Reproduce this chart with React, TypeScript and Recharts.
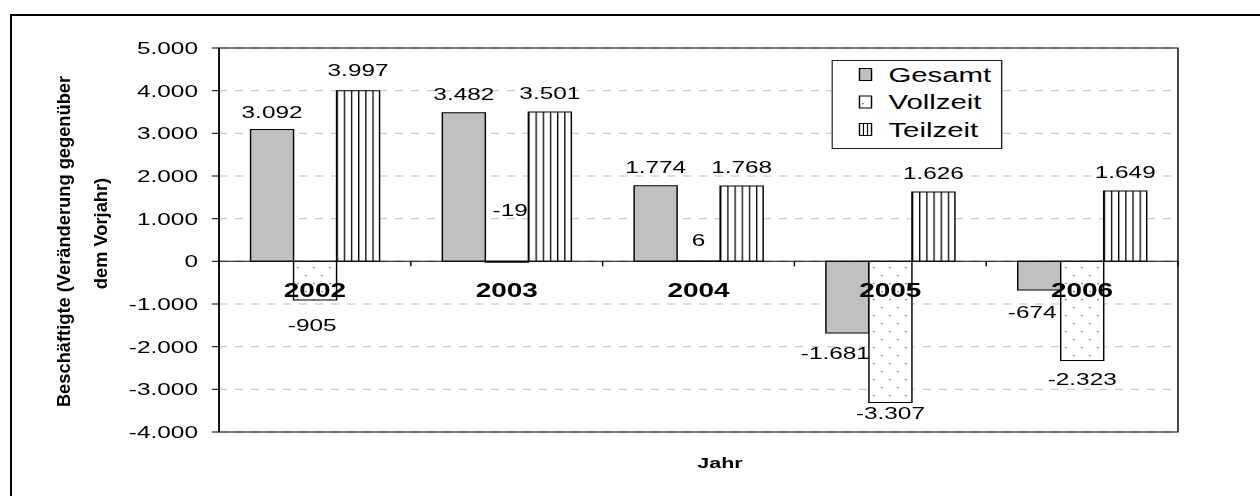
import { BarChart, Bar, XAxis, YAxis, CartesianGrid, ReferenceLine, ReferenceArea, Legend, LabelList } from "recharts";

const years = ["2002", "2003", "2004", "2005", "2006"];
const gesamt = [3092, 3482, 1774, -1681, -674];
const vollzeit = [-905, -19, 6, -3307, -2323];
const teilzeit = [3997, 3501, 1768, 1626, 1649];
const yTicks = [-4000, -3000, -2000, -1000, 0, 1000, 2000, 3000, 4000, 5000];

const data = years.map((year, i) => ({
  year,
  Gesamt: gesamt[i],
  Vollzeit: vollzeit[i],
  Teilzeit: teilzeit[i],
}));

// the reference is stretched horizontally, so the chart is drawn narrow and scaled in x
const SX = 1.4334;
const W = 879;
const H = 496;
const M = { top: 48, right: 57.2, bottom: 0, left: 0 };
const Y_AXIS_W = 152.8;
const X_AXIS_H = 64;
const PLOT_W = W - M.left - M.right - Y_AXIS_W;
const PLOT_H = H - M.top - M.bottom - X_AXIS_H;
const BAND = PLOT_W / years.length;
const Y_MIN = yTicks[0];
const Y_MAX = yTicks[yTicks.length - 1];
const ZERO_Y = M.top + (PLOT_H * Y_MAX) / (Y_MAX - Y_MIN);
const FONT = "'Liberation Sans', Arial, sans-serif";

// hand-placed labels in the original
const nudge: Record<string, [number, number]> = {
  "Gesamt-0": [0, 2],
  "Teilzeit-0": [0, -2],
  "Gesamt-3": [-8.4, 0],
  "Gesamt-4": [-4.9, 2],
  "Vollzeit-0": [-2, 5],
  "Vollzeit-1": [2.3, -72],
  "Vollzeit-2": [0, -2],
  "Vollzeit-3": [0, -9],
  "Vollzeit-4": [0, -2],
};

const fmt = (n: number) => {
  const s = Math.abs(n).toString().replace(/\B(?=(\d{3})+(?!\d))/g, ".");
  return (n < 0 ? "-" : "") + s;
};

const valueLabel = (key: string) => (props: any) => {
  const { x, y, width, height, value, index } = props;
  const v = Number(value);
  const top = Math.min(y, y + height);
  const bottom = Math.max(y, y + height);
  const [dx, dy] = nudge[`${key}-${index}`] ?? [0, 0];
  const cy = (v >= 0 ? top - 19 : bottom + 20) + dy;
  return (
    <text x={x + width / 2 + dx} y={cy} textAnchor="middle" dominantBaseline="central" fontSize={17} fontFamily={FONT} fill="#000">
      {fmt(v)}
    </text>
  );
};

const YearTick = (props: any) => {
  const { x, payload, index } = props;
  const left = x - BAND / 2;
  return (
    <g>
      <line x1={left} x2={left} y1={ZERO_Y} y2={ZERO_Y + 5} stroke="#000" />
      {index === years.length - 1 && (
        <line x1={x + BAND / 2} x2={x + BAND / 2} y1={ZERO_Y} y2={ZERO_Y + 5} stroke="#000" />
      )}
      <text x={x} y={ZERO_Y + 35.4} textAnchor="middle" fontSize={19.5} fontWeight="bold" fontFamily={FONT} fill="#000">
        {payload.value}
      </text>
    </g>
  );
};

const YTitle = () => (
  <g fontFamily={FONT} fontWeight="bold" fontSize={18.3} fill="#000">
    <g transform={`translate(${63 / SX},241.5) scale(${1 / SX},1) rotate(-90)`}>
      <text textAnchor="middle" dominantBaseline="central">Beschäftigte (Veränderung gegenüber</text>
    </g>
    <g transform={`translate(${100 / SX},233.5) scale(${1 / SX},1) rotate(-90)`}>
      <text textAnchor="middle" dominantBaseline="central">dem Vorjahr)</text>
    </g>
  </g>
);

const XTitle = (props: any) => {
  const vb = props.viewBox || { x: 0, width: 0 };
  return (
    <text x={vb.x + vb.width / 2 + 15} y={468} textAnchor="middle" fontSize={15} fontWeight="bold" fontFamily={FONT} fill="#000">
      Jahr
    </text>
  );
};

const LegendBox = () => {
  const rows = [74.5 - 60, 102 - 60, 129.5 - 60];
  const sw = 8.4;
  const sx = 19.6;
  return (
    <svg width={119.3} height={89} style={{ display: "block" }}>
      <rect x={0.5} y={0.5} width={118.3} height={88} fill="#fff" stroke="#222" />
      <rect x={sx} y={rows[0] - 6} width={sw} height={12} fill="#c0c0c0" stroke="#000" />
      <rect x={sx} y={rows[1] - 6} width={sw} height={12} fill="#fff" stroke="#000" />
      <rect x={sx + 2} y={rows[1] + 1} width={0.8} height={1.2} fill="#333" />
      <rect x={sx} y={rows[2] - 6} width={sw} height={12} fill="#fff" stroke="#000" />
      <line x1={sx + sw / 3} x2={sx + sw / 3} y1={rows[2] - 6} y2={rows[2] + 6} stroke="#000" strokeWidth={0.8} />
      <line x1={sx + (2 * sw) / 3} x2={sx + (2 * sw) / 3} y1={rows[2] - 6} y2={rows[2] + 6} stroke="#000" strokeWidth={0.8} />
      {["Gesamt", "Vollzeit", "Teilzeit"].map((name, i) => (
        <text key={name} x={39.8} y={rows[i]} dominantBaseline="central" fontSize={20.5} fontFamily={FONT} fill="#000">
          {name}
        </text>
      ))}
    </svg>
  );
};

export default function App() {
  return (
    <div style={{ position: "absolute", left: 0, top: 0, width: 1260, height: 496, overflow: "hidden", background: "#fff" }}>
      <div
        style={{
          position: "absolute",
          left: 10,
          top: 14,
          width: 1400,
          height: 700,
          borderLeft: "2px solid #000",
          borderTop: "2px solid #000",
        }}
      />
      <div style={{ position: "absolute", left: 0, top: 0, width: W, height: H, transform: `scaleX(${SX})`, transformOrigin: "0 0" }}>
        <BarChart width={W} height={H} data={data} margin={M} barGap={0} barCategoryGap="16%">
          <defs>
            <pattern id="dots" patternUnits="userSpaceOnUse" width={16 / SX} height={16}>
              <rect x={0} y={0} width={16 / SX} height={16} fill="#fff" />
              <rect x={1} y={3} width={0.8} height={1.2} fill="#333" />
              <rect x={1 + 8 / SX} y={11} width={0.8} height={1.2} fill="#333" />
            </pattern>
            <pattern id="vlines" patternUnits="objectBoundingBox" width={1 / 6} height={1}>
              <rect x={0} y={0} width={100} height={1000} fill="#fff" />
              <rect x={0} y={0} width={0.9} height={1000} fill="#000" />
            </pattern>
          </defs>
          <CartesianGrid vertical={false} stroke="#c0c0c0" strokeDasharray={`${8 / SX} ${8 / SX}`} />
          <ReferenceArea y1={Y_MIN} y2={Y_MAX} fill="none" stroke="#000" strokeWidth={1} ifOverflow="visible" />
          <XAxis
            dataKey="year"
            height={X_AXIS_H}
            axisLine={false}
            tickLine={false}
            tick={<YearTick />}
            interval={0}
            label={<XTitle />}
          />
          <YAxis
            width={Y_AXIS_W}
            domain={[Y_MIN, Y_MAX]}
            ticks={yTicks}
            interval={0}
            tickFormatter={fmt}
            tickSize={5}
            tickMargin={9.7}
            axisLine={{ stroke: "#000" }}
            tickLine={{ stroke: "#000" }}
            tick={{ fontSize: 17, fill: "#000", fontFamily: FONT }}
            label={<YTitle />}
          />
          <Legend
            layout="horizontal"
            verticalAlign="middle"
            align="center"
            wrapperStyle={{ position: "absolute", left: 580.4, top: 60, width: 119.3, height: 89 }}
            content={<LegendBox />}
          />
          <Bar dataKey="Gesamt" fill="#c0c0c0" stroke="#000" strokeWidth={1} barSize={30} isAnimationActive={false}>
            <LabelList dataKey="Gesamt" content={valueLabel("Gesamt")} />
          </Bar>
          <Bar dataKey="Vollzeit" fill="url(#dots)" stroke="#000" strokeWidth={1} barSize={30} isAnimationActive={false}>
            <LabelList dataKey="Vollzeit" content={valueLabel("Vollzeit")} />
          </Bar>
          <Bar dataKey="Teilzeit" fill="url(#vlines)" stroke="#000" strokeWidth={1} barSize={30} isAnimationActive={false}>
            <LabelList dataKey="Teilzeit" content={valueLabel("Teilzeit")} />
          </Bar>
          <ReferenceLine y={0} stroke="#000" strokeWidth={1} />
        </BarChart>
      </div>
    </div>
  );
}
